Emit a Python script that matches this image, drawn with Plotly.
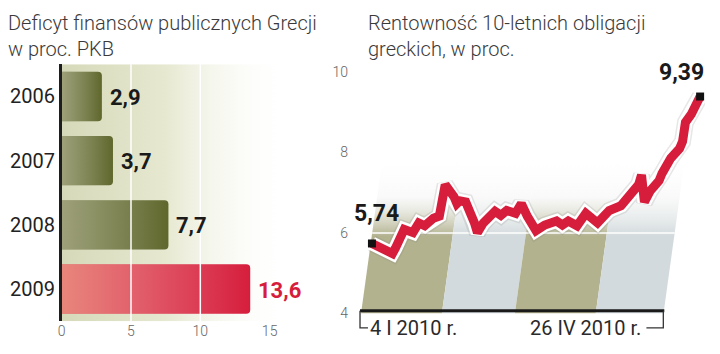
import pandas as pd
import plotly.graph_objects as go

# ---------------- data ----------------
years = ["2006", "2007", "2008", "2009"]
deficit = [2.9, 3.7, 7.7, 13.6]
deficit_ticks = [0, 5, 10, 15]

dates = [
    "2010-01-04", "2010-01-06", "2010-01-08", "2010-01-11", "2010-01-12",
    "2010-01-14", "2010-01-15", "2010-01-18", "2010-01-20", "2010-01-22",
    "2010-01-25", "2010-01-27", "2010-01-29", "2010-02-01", "2010-02-02",
    "2010-02-03", "2010-02-05", "2010-02-08", "2010-02-09", "2010-02-11",
    "2010-02-15", "2010-02-17", "2010-02-19", "2010-02-22", "2010-02-24",
    "2010-02-26", "2010-03-01", "2010-03-04", "2010-03-08", "2010-03-10",
    "2010-03-12", "2010-03-15", "2010-03-18", "2010-03-22", "2010-03-26",
    "2010-03-30", "2010-04-01", "2010-04-05", "2010-04-06", "2010-04-07",
    "2010-04-09", "2010-04-12", "2010-04-13", "2010-04-16", "2010-04-19",
    "2010-04-20", "2010-04-21", "2010-04-22", "2010-04-23", "2010-04-26",
]
yields = [
    5.74, 5.66, 5.55, 5.49, 5.62,
    5.95, 6.09, 6.01, 6.25, 6.18,
    6.37, 6.42, 7.20, 6.90, 6.73,
    6.80, 6.77, 6.25, 6.01, 6.25,
    6.54, 6.44, 6.56, 6.49, 6.73,
    6.42, 6.06, 6.20, 6.30, 6.20,
    6.30, 6.18, 6.49, 6.25, 6.56,
    6.68, 6.85, 7.20, 7.44, 6.77,
    7.05, 7.30, 7.48, 7.86, 8.10,
    8.27, 8.75, 8.85, 8.95, 9.39,
]
yield_ticks = [4, 6, 8, 10]
month_edges = ["2010-01-01", "2010-02-01", "2010-03-01", "2010-04-01", "2010-04-27"]
start_label = "4 I 2010 r."
end_label = "26 IV 2010 r."

# ---------------- helpers ----------------
W, H = 720, 354


def px(x):
    return x / W


def py(y):
    return 1 - y / H


def fmt(v):
    return f"{v:.2f}".replace(".", ",") if round(v, 1) != v else f"{v:.1f}".replace(".", ",")


FONT = "Roboto"
OLIVE = "#5f672c"
RED = "#d61e3c"

fig = go.Figure()

# ---------------- left panel: deficit bars ----------------
n = len(years)
x_range = [0, 17]
bg_xmax = 16.6
# background gradient on the base subplot (x / y)
fig.add_trace(go.Scatter(
    x=[0, bg_xmax, bg_xmax, 0, 0], y=[-0.5, -0.5, n - 0.5, n - 0.5, -0.5],
    fill="toself", mode="none",
    fillgradient=dict(type="horizontal",
                      colorscale=[[0, "#d6d9b9"], [0.45, "#e6e8d0"], [1, "rgba(255,255,255,0)"]]),
    hoverinfo="skip", showlegend=False, xaxis="x", yaxis="y"))

# bars on an overlaid subplot (x3 / y3), so they sit above the background
bar_colors = [OLIVE] * (n - 1) + [RED]
label_colors = ["#1a1a1a"] * (n - 1) + [RED]
light_colors = ["rgba(235,230,215,0.45)"] * (n - 1) + ["rgba(250,238,186,0.5)"]
bw = 0.77
fig.add_trace(go.Bar(
    x=deficit, y=list(range(n)), orientation="h", width=bw,
    marker=dict(color=bar_colors, cornerradius=4, line=dict(width=0)),
    hoverinfo="skip", showlegend=False, xaxis="x3", yaxis="y3"))

# lighting overlay (left light -> right dark) for each bar
for i, v in enumerate(deficit):
    fig.add_trace(go.Scatter(
        x=[0, v, v, 0, 0],
        y=[i - bw / 2, i - bw / 2, i + bw / 2, i + bw / 2, i - bw / 2],
        fill="toself", mode="none",
        fillgradient=dict(type="horizontal",
                          colorscale=[[0, light_colors[i]], [1, "rgba(255,255,255,0)"]]),
        hoverinfo="skip", showlegend=False, xaxis="x3", yaxis="y3"))

# value labels (annotations, above the white gridlines)
for i, v in enumerate(deficit):
    fig.add_annotation(xref="x3", yref="y3", x=v, y=i, xanchor="left", yanchor="middle",
                       xshift=6, yshift=-1, text=fmt(v), showarrow=False,
                       font=dict(family=FONT, size=22, color=label_colors[i], weight="bold"))

# ---------------- right panel: bond yields ----------------
jan1 = pd.Timestamp(month_edges[0])
slant = 1.9          # days of rightward shift per percentage point (perspective)
ytop = 8.0


def base_date(d):
    days = (pd.Timestamp(d) - jan1) / pd.Timedelta(days=1)
    return jan1 + pd.Timedelta(days=-0.73 + 0.89 * days)


def shifted(t, y):
    return t + pd.Timedelta(days=slant * (y - yield_ticks[0]))


band_colors = ["#b3b28f", "#d2dadd"]
for k in range(len(month_edges) - 1):
    b0 = base_date(month_edges[k])
    b1 = base_date(month_edges[k + 1])
    y0 = yield_ticks[0]
    xs = [b0, b1, shifted(b1, ytop), shifted(b0, ytop), b0]
    ys = [y0, y0, ytop, ytop, y0]
    c = band_colors[k % 2]
    fig.add_trace(go.Scatter(
        x=xs, y=ys, fill="toself", mode="none",
        fillgradient=dict(type="vertical",
                          colorscale=[[0, c], [0.48, c], [0.72, "rgba(240,242,240,0.45)"],
                                      [1, "rgba(255,255,255,0)"]]),
        hoverinfo="skip", showlegend=False, xaxis="x2", yaxis="y2"))

# white grid line at 6
g = yield_ticks[1]
fig.add_trace(go.Scatter(
    x=[shifted(base_date(month_edges[0]), g), shifted(base_date(month_edges[-1]), g)],
    y=[g, g], mode="lines", line=dict(color="white", width=1.5),
    hoverinfo="skip", showlegend=False, xaxis="x2", yaxis="y2"))

# soft shadow + halo + line
fig.add_trace(go.Scatter(
    x=dates, y=yields, mode="lines", line=dict(color="rgba(120,120,120,0.18)", width=17),
    hoverinfo="skip", showlegend=False, xaxis="x2", yaxis="y2", cliponaxis=False))
fig.add_trace(go.Scatter(
    x=dates, y=yields, mode="lines", line=dict(color="white", width=14),
    hoverinfo="skip", showlegend=False, xaxis="x2", yaxis="y2", cliponaxis=False))
fig.add_trace(go.Scatter(
    x=dates, y=yields, mode="lines", line=dict(color=RED, width=9),
    hoverinfo="skip", showlegend=False, xaxis="x2", yaxis="y2", cliponaxis=False))
fig.add_trace(go.Scatter(
    x=[dates[0], dates[-1]], y=[yields[0], yields[-1]], mode="markers",
    marker=dict(symbol="square", size=8, color="#111"),
    hoverinfo="skip", showlegend=False, xaxis="x2", yaxis="y2", cliponaxis=False))

# ---------------- layout ----------------
d0 = pd.Timestamp(dates[0])
d1 = pd.Timestamp(dates[-1])
ppd = (700 - 370) / ((d1 - d0) / pd.Timedelta(days=1))
xr0 = d0 - pd.Timedelta(days=(370 - 355) / ppd)
xr1 = d1 + pd.Timedelta(days=(705 - 700) / ppd)

tick_font = dict(family=FONT, size=14, color="#666", weight=300)
left_dom_x = [px(58), px(295)]
left_dom_y = [py(328), py(59)]
y_range = [n - 0.5, -0.5]

fig.update_layout(
    width=W, height=H, margin=dict(l=0, r=0, t=0, b=0),
    paper_bgcolor="white", plot_bgcolor="rgba(0,0,0,0)", showlegend=False,
    xaxis=dict(domain=left_dom_x, range=x_range, tickvals=deficit_ticks,
               showgrid=False, zeroline=False, showline=False, ticks="",
               tickfont=tick_font, anchor="y"),
    yaxis=dict(domain=left_dom_y, range=y_range,
               tickvals=list(range(n)), ticktext=years,
               showgrid=False, zeroline=False, showline=True,
               linecolor="#1e1e1e", linewidth=2.5, ticks="",
               tickfont=dict(family=FONT, size=20, color="#222"), anchor="x"),
    xaxis3=dict(overlaying="x", range=x_range, visible=False, anchor="y3"),
    yaxis3=dict(overlaying="y", range=y_range, visible=False, anchor="x3"),
    xaxis2=dict(domain=[px(355), px(705)], type="date",
                range=[xr0.isoformat(), xr1.isoformat()], visible=False, anchor="y2"),
    yaxis2=dict(domain=[py(320), py(67)], range=[4, 10], tickvals=yield_ticks,
                showgrid=False, zeroline=False, showline=False, ticks="",
                ticklabelstandoff=8, tickfont=tick_font, anchor="x2"),
)

# gridlines over the bars
for t in deficit_ticks[1:-1]:
    fig.add_shape(type="line", xref="x", yref="y domain", x0=t, x1=t, y0=0, y1=1,
                  line=dict(color="white", width=1.5), layer="above")

# bottom axis of the yield chart + bracket
axis_y = py(317)
brk_y = py(335)
fig.add_shape(type="line", xref="paper", yref="paper", x0=px(358), x1=px(664),
              y0=axis_y, y1=axis_y, line=dict(color="#1a1a1a", width=3))
fig.add_shape(type="path", xref="paper", yref="paper",
              path=f"M {px(358)} {axis_y} L {px(358)} {brk_y} L {px(366)} {brk_y}",
              line=dict(color="#333", width=1.3))
fig.add_shape(type="path", xref="paper", yref="paper",
              path=f"M {px(646)} {brk_y} L {px(663)} {brk_y} L {px(663)} {axis_y}",
              line=dict(color="#333", width=1.3))

title_font = dict(family=FONT, size=20, color="#3a3a3a", weight=300)
fig.add_annotation(xref="paper", yref="paper", x=px(2), y=py(1), xanchor="left", yanchor="top",
                   text="Deficyt finansów publicznych Grecji<br>w proc. PKB", align="left",
                   showarrow=False, font=title_font)
fig.add_annotation(xref="paper", yref="paper", x=px(364), y=py(1), xanchor="left", yanchor="top",
                   text="Rentowność 10-letnich obligacji<br>greckich, w proc.", align="left",
                   showarrow=False, font=title_font)

lab_font = dict(family=FONT, size=23, color="#1a1a1a", weight="bold")
fig.add_annotation(xref="x2", yref="y2", x=dates[0], y=yields[0], xanchor="left", yanchor="bottom",
                   xshift=-20, yshift=14, text=fmt(yields[0]), showarrow=False, font=lab_font)
fig.add_annotation(xref="x2", yref="y2", x=dates[-1], y=yields[-1], xanchor="right", yanchor="bottom",
                   xshift=6, yshift=9, text=fmt(yields[-1]), showarrow=False, font=lab_font)

br_font = dict(family=FONT, size=20, color="#2a2a2a")
fig.add_annotation(xref="paper", yref="paper", x=px(366), y=brk_y, xanchor="left", yanchor="middle",
                   text=start_label, showarrow=False, font=br_font)
fig.add_annotation(xref="paper", yref="paper", x=px(643), y=brk_y, xanchor="right", yanchor="middle",
                   text=end_label, showarrow=False, font=br_font)

fig.write_html("out.html")
